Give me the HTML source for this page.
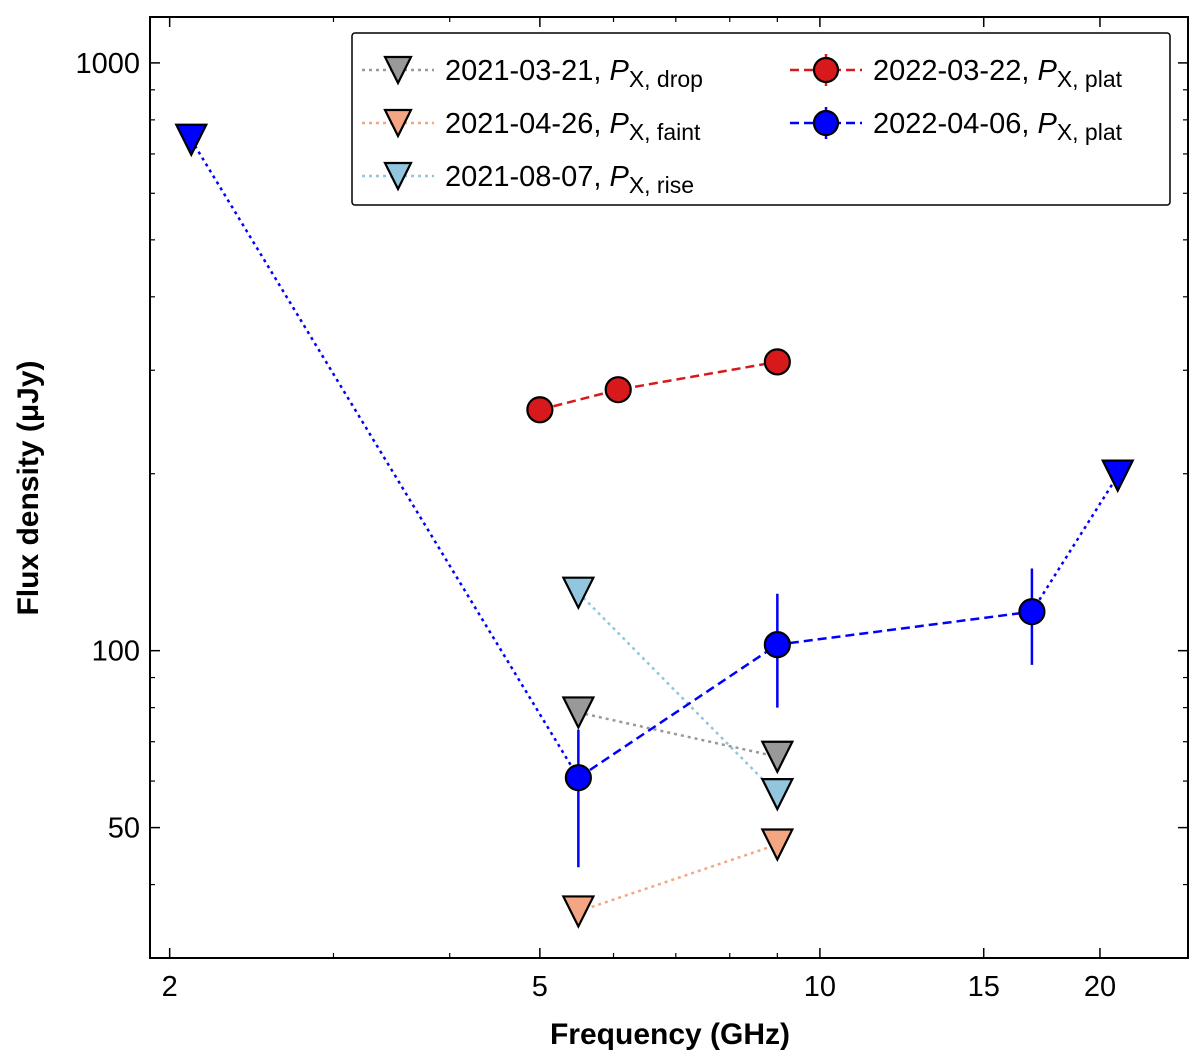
<!DOCTYPE html>
<html><head><meta charset="utf-8"><style>
html,body{margin:0;padding:0;background:#fff;}
svg{display:block;font-family:"Liberation Sans","DejaVu Sans",sans-serif;}
</style></head><body>
<svg id="chart" width="1200" height="1063"></svg>
<script>
const NS='http://www.w3.org/2000/svg';
// Data
const series1Freq=[5.5,9.0], series1Flux=[78.5,66];            // 2021-03-21 upper limits
const series2Freq=[5.5,9.0], series2Flux=[36,46.8];            // 2021-04-26 upper limits
const series3Freq=[5.5,9.0], series3Flux=[125.5,57];           // 2021-08-07 upper limits
const series4Freq=[5.0,6.07,9.0], series4Flux=[257,278,310];   // 2022-03-22 detections
const series5Freq=[5.5,9.0,16.9], series5Flux=[60.8,102.4,116.5]; // 2022-04-06 detections
const series5ErrHi=[73.4,125,138], series5ErrLo=[42.8,80,94.6];
const limitFreq=[2.11,20.9], limitFlux=[740,198.5];            // 2022-04-06 upper limits
const xTickVals=[2,5,10,15,20], xTickLabels=['2','5','10','15','20'];
const xMinorVals=[3,4,6,7,8,9];
const yTickVals=[50,100,1000], yTickLabels=['50','100','1000'];
const yMinorVals=[30,40,60,70,80,90,200,300,400,500,600,700,800,900];

const L=150,R=1188,T=17,B=958;
const xmin=Math.log10(1.905), xmax=Math.log10(24.87);
const ymin=Math.log10(30.0), ymax=Math.log10(1197);
const X=v=>L+(Math.log10(v)-xmin)/(xmax-xmin)*(R-L);
const Y=v=>B-(Math.log10(v)-ymin)/(ymax-ymin)*(B-T);
const svg=document.getElementById('chart');
function el(tag,attrs,parent){const e=document.createElementNS(NS,tag);for(const k in attrs)e.setAttribute(k,attrs[k]);(parent||svg).appendChild(e);return e;}

const frame=el('rect',{x:L,y:T,width:R-L,height:B-T,fill:'none',stroke:'#000','stroke-width':2});



xTickVals.forEach((v,i)=>{const x=X(v);
 el('line',{x1:x,y1:B,x2:x,y2:B-10,stroke:'#000','stroke-width':1.5});
 el('line',{x1:x,y1:T,x2:x,y2:T+10,stroke:'#000','stroke-width':1.5});
 const t=el('text',{x:x,y:B+38,'text-anchor':'middle','font-size':29,fill:'#000'});t.textContent=xTickLabels[i];
 
 
});
xMinorVals.forEach(v=>{const x=X(v);
 el('line',{x1:x,y1:B,x2:x,y2:B-5,stroke:'#000','stroke-width':1.2});
 el('line',{x1:x,y1:T,x2:x,y2:T+5,stroke:'#000','stroke-width':1.2});});
yTickVals.forEach((v,i)=>{const y=Y(v);
 el('line',{x1:L,y1:y,x2:L+10,y2:y,stroke:'#000','stroke-width':1.5});
 el('line',{x1:R,y1:y,x2:R-10,y2:y,stroke:'#000','stroke-width':1.5});
 const t=el('text',{x:L-10,y:y+10,'text-anchor':'end','font-size':29,fill:'#000'});t.textContent=yTickLabels[i];
 
 
});
yMinorVals.forEach(v=>{const y=Y(v);
 el('line',{x1:L,y1:y,x2:L+5,y2:y,stroke:'#000','stroke-width':1.2});
 el('line',{x1:R,y1:y,x2:R-5,y2:y,stroke:'#000','stroke-width':1.2});});

const xt=el('text',{x:670,y:1044,'text-anchor':'middle','font-size':30,'font-weight':'bold'});xt.textContent='Frequency (GHz)';


const yt=el('text',{x:0,y:0,'text-anchor':'middle','font-size':30,'font-weight':'bold',transform:'translate(38,488) rotate(-90)'});yt.textContent='Flux density (μJy)';



function tri(cx,cy,fill,name){const s=15;
 const p=el('polygon',{points:`${cx-s},${cy-s} ${cx+s},${cy-s} ${cx},${cy+s}`,fill:fill,stroke:'#000','stroke-width':2.2,'stroke-linejoin':'miter'});
 
 return p;}
function circ(cx,cy,fill,name){const c=el('circle',{cx:cx,cy:cy,r:12.5,fill:fill,stroke:'#000','stroke-width':2.2});
 
 return c;}
function line(fr,fl,color,dash,name){const pts=fr.map((f,i)=>X(f)+','+Y(fl[i])).join(' ');
 const p=el('polyline',{points:pts,fill:'none',stroke:color,'stroke-width':2.5,'stroke-dasharray':dash});
 
 }

line(series1Freq,series1Flux,'#999','3 4','line-2021-03-21');
line(series2Freq,series2Flux,'#f4a582','3 4','line-2021-04-26');
line(series3Freq,series3Flux,'#92c5de','3 4','line-2021-08-07');
line(series4Freq,series4Flux,'#d7191c','9 5','line-2022-03-22');
line(series5Freq,series5Flux,'#0000ff','9 5','line-2022-04-06');
line([limitFreq[0],series5Freq[0]],[limitFlux[0],series5Flux[0]],'#0000ff','3 4','limit-line-low');
line([series5Freq[2],limitFreq[1]],[series5Flux[2],limitFlux[1]],'#0000ff','3 4','limit-line-high');

series5Freq.forEach((f,i)=>{const e=el('line',{x1:X(f),x2:X(f),y1:Y(series5ErrHi[i]),y2:Y(series5ErrLo[i]),stroke:'#0000ff','stroke-width':2.5});
 
 });

series1Freq.forEach((f,i)=>tri(X(f),Y(series1Flux[i]),'#999','marker-2021-03-21'));
series2Freq.forEach((f,i)=>tri(X(f),Y(series2Flux[i]),'#f4a582','marker-2021-04-26'));
series3Freq.forEach((f,i)=>tri(X(f),Y(series3Flux[i]),'#92c5de','marker-2021-08-07'));
series4Freq.forEach((f,i)=>circ(X(f),Y(series4Flux[i]),'#d7191c','marker-2022-03-22'));
series5Freq.forEach((f,i)=>circ(X(f),Y(series5Flux[i]),'#0000ff','marker-2022-04-06'));
limitFreq.forEach((f,i)=>tri(X(f),Y(limitFlux[i]),'#0000ff','upper-limit-2022-04-06'));

const lg=el('g',{});


el('rect',{x:352,y:33,width:818,height:172,fill:'#fff',stroke:'#000','stroke-width':1.5,rx:3},lg);
const entries=[
 {x:362,y:70,c:'#999',d:'3 4',m:'tri',t:'2021-03-21, ',s:'X, drop'},
 {x:362,y:123,c:'#f4a582',d:'3 4',m:'tri',t:'2021-04-26, ',s:'X, faint'},
 {x:362,y:176,c:'#92c5de',d:'3 4',m:'tri',t:'2021-08-07, ',s:'X, rise'},
 {x:790,y:70,c:'#d7191c',d:'9 5',m:'circ',t:'2022-03-22, ',s:'X, plat'},
 {x:790,y:123,c:'#0000ff',d:'9 5',m:'circ',t:'2022-04-06, ',s:'X, plat'}];
entries.forEach(e=>{
 const g=el('g',{},lg);
 
 
 el('line',{x1:e.x,x2:e.x+72,y1:e.y,y2:e.y,stroke:e.c,'stroke-width':2.5,'stroke-dasharray':e.d},g);
 if(e.m==='circ'){el('line',{x1:e.x+36,x2:e.x+36,y1:e.y-16,y2:e.y+16,stroke:e.c,'stroke-width':2.5},g);
  el('circle',{cx:e.x+36,cy:e.y,r:12,fill:e.c,stroke:'#000','stroke-width':2.2},g);}
 else{const s=13,cx=e.x+36,cy=e.y;el('polygon',{points:`${cx-s},${cy-s} ${cx+s},${cy-s} ${cx},${cy+s}`,fill:e.c,stroke:'#000','stroke-width':2.2},g);}
 const t=el('text',{x:e.x+83,y:e.y+10,'font-size':29},g);
 t.appendChild(document.createTextNode(e.t));
 const p=el('tspan',{'font-style':'italic'},t);p.textContent='P';
 const sb=el('tspan',{'font-size':23,dy:7},t);sb.textContent=e.s;
});
</script>
</body></html>
